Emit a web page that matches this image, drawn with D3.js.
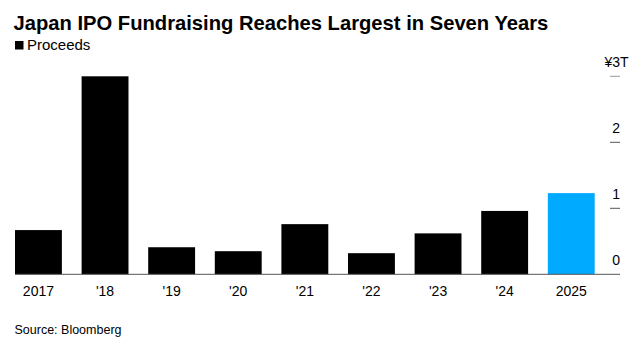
<!DOCTYPE html>
<html>
<head>
<meta charset="utf-8">
<script src="https://cdn.jsdelivr.net/npm/d3@7"></script>
<style>
  html, body { margin: 0; padding: 0; background: #fff; }
  svg { display: block; font-family: "Liberation Sans", Arial, Helvetica, sans-serif; }
</style>
</head>
<body>
<svg id="chart" width="644" height="347"></svg>
<script>
// Japan IPO proceeds by year, trillions of yen
const years = ["2017", "'18", "'19", "'20", "'21", "'22", "'23", "'24", "2025"];
const proceeds = [0.67, 3.0, 0.41, 0.35, 0.76, 0.32, 0.62, 0.96, 1.23];
const highlightYear = "2025";
const yTicks = [0, 1, 2, 3];

const svg = d3.select("#chart");
const baseY = 274.3;
const topY = 76.3;

const x = d3.scaleBand()
  .domain(years)
  .range([15, 594.7])
  .paddingInner(0.296)
  .paddingOuter(0);

const y = d3.scaleLinear()
  .domain([0, 3])
  .range([baseY, topY]);

// Title
svg.append("text")
  .attr("x", 13.5).attr("y", 30)
  .attr("font-size", 20.2).attr("font-weight", "bold")
  .attr("fill", "#000")
  .text("Japan IPO Fundraising Reaches Largest in Seven Years");

// Legend
svg.append("rect")
  .attr("x", 15).attr("y", 41).attr("width", 8.5).attr("height", 8.5)
  .attr("fill", "#000");
svg.append("text")
  .attr("x", 27).attr("y", 50)
  .attr("font-size", 15).attr("fill", "#000")
  .text("Proceeds");

// Bars
svg.append("g").selectAll("rect")
  .data(years.map((yr, i) => ({ yr, v: proceeds[i] })))
  .join("rect")
  .attr("x", d => x(d.yr))
  .attr("width", x.bandwidth())
  .attr("y", d => y(d.v))
  .attr("height", d => baseY - y(d.v))
  .attr("fill", d => d.yr === highlightYear ? "#00aaff" : "#000");

// Baseline
svg.append("line")
  .attr("x1", 15).attr("x2", 620)
  .attr("y1", baseY).attr("y2", baseY)
  .attr("stroke", "#555").attr("stroke-width", 1);

// Right axis: tick dashes with labels sitting above them
const yAxis = svg.append("g");
yTicks.filter(t => t > 0).forEach(t => {
  yAxis.append("line")
    .attr("x1", 610).attr("x2", 620)
    .attr("y1", y(t)).attr("y2", y(t))
    .attr("stroke", t === 3 ? "#999" : "#555").attr("stroke-width", 1);
});
yTicks.forEach(t => {
  const lbl = yAxis.append("text")
    .attr("x", 620).attr("y", y(t) - 9)
    .attr("font-size", 14).attr("fill", "#000")
    .attr("text-anchor", "end");
  if (t === 3) {
    lbl.text("¥" + t);
    yAxis.append("text")
      .attr("x", 620).attr("y", y(t) - 9)
      .attr("font-size", 14).attr("fill", "#000")
      .text("T");
  } else {
    lbl.text(t);
  }
});

// X axis labels
svg.append("g").selectAll("text")
  .data(years)
  .join("text")
  .attr("x", d => x(d) + x.bandwidth() / 2)
  .attr("y", 296)
  .attr("text-anchor", "middle")
  .attr("font-size", 14).attr("fill", "#000")
  .text(d => d);

// Source
svg.append("text")
  .attr("x", 14.5).attr("y", 334)
  .attr("font-size", 12.5).attr("fill", "#000")
  .text("Source: Bloomberg");
</script>
</body>
</html>
